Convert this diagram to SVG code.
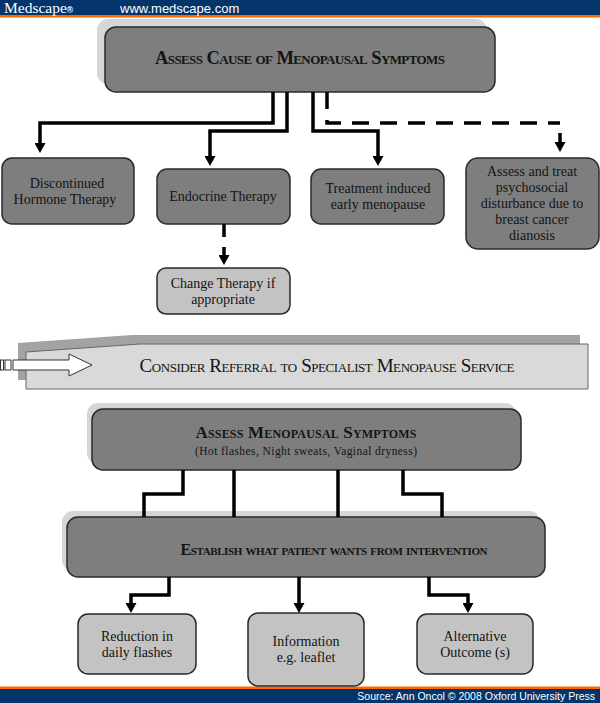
<svg xmlns="http://www.w3.org/2000/svg" width="600" height="703" viewBox="0 0 600 703">
<defs>
<marker id="ah" markerUnits="userSpaceOnUse" markerWidth="10" markerHeight="11" viewBox="0 0 10 11" refX="0" refY="5.5" orient="auto">
<path d="M0,0 L10,5.5 L0,11 z" fill="#000"/>
</marker>
</defs>
<style>
.dark{fill:#7e7e7e;stroke:#2a2a2a;stroke-width:1.5}
.light{fill:#c3c3c3;stroke:#2a2a2a;stroke-width:1.5}
.shadow{fill:#d6d6d6}
.t{font-family:"Liberation Serif","Times New Roman",serif;font-size:14px;fill:#141414;text-anchor:middle}
.title{font-family:"Liberation Serif","Times New Roman",serif;font-weight:bold;font-variant:small-caps;fill:#141414;text-anchor:middle}
.c{fill:none;stroke:#000;stroke-width:3.5;stroke-linejoin:miter}
.dash{stroke-dasharray:17 11}
</style>
<rect width="600" height="703" fill="#fff"/>
<g id="header">
<rect x="0" y="0" width="600" height="15" fill="#03356b"/>
<rect x="0" y="15" width="600" height="2.5" fill="#ff6600"/>
<text x="4" y="13" font-family="Liberation Serif,serif" font-size="15.5" fill="#fff">Medscape<tspan font-family="Liberation Sans,sans-serif" font-size="8.5" font-weight="bold">®</tspan></text>
<text x="120" y="12.5" font-family="Liberation Sans,Arial,sans-serif" font-size="13" fill="#fff">www.medscape.com</text>
</g>
<g id="footer">
<rect x="0" y="686.5" width="600" height="2.5" fill="#ff6600"/>
<rect x="0" y="689" width="600" height="14" fill="#03356b"/>
<text x="595" y="699.5" text-anchor="end" font-family="Liberation Sans,Arial,sans-serif" font-size="10.5" fill="#fff">Source: Ann Oncol © 2008 Oxford University Press</text>
</g>
<g id="assess-cause">
<rect class="shadow" x="97" y="19" width="390" height="65" rx="11"/>
<rect class="dark" x="105" y="27" width="390" height="65" rx="11"/>
<text class="title" x="300" y="64" font-size="18.5" textLength="290" lengthAdjust="spacing">Assess Cause of Menopausal Symptoms</text>
</g>
<g id="discontinued">
<rect class="dark" x="2" y="158" width="132" height="66" rx="10"/>
<text class="t" x="67" y="188">Discontinued</text>
<text class="t" x="65" y="204">Hormone Therapy</text>
</g>
<g id="endocrine">
<rect class="dark" x="157" y="169" width="133" height="55" rx="10"/>
<text class="t" x="223" y="201">Endocrine Therapy</text>
</g>
<g id="change-therapy">
<rect class="light" x="157" y="268" width="133" height="46" rx="9"/>
<text class="t" x="223" y="288">Change Therapy if</text>
<text class="t" x="223" y="304">appropriate</text>
</g>
<g id="treatment-induced">
<rect class="dark" x="311" y="169" width="133" height="55" rx="10"/>
<text class="t" x="378" y="193">Treatment induced</text>
<text class="t" x="378" y="209">early menopause</text>
</g>
<g id="psychosocial">
<rect class="dark" x="466" y="158" width="133" height="91" rx="12"/>
<text class="t" x="532" y="176">Assess and treat</text>
<text class="t" x="532" y="192">psychosocial</text>
<text class="t" x="532" y="208">disturbance due to</text>
<text class="t" x="532" y="224">breast cancer</text>
<text class="t" x="532" y="240">dianosis</text>
</g>
<g id="referral">
<polygon points="18,343 132,335 580,335 580,380 18,380" fill="#a3a3a3"/>
<polygon points="26,352 140,344 588,344 588,389 26,389" fill="#d9d9d9" stroke="#666" stroke-width="1"/>
<rect x="0.5" y="360" width="3" height="10" fill="#fff" stroke="#333" stroke-width="1"/>
<rect x="5" y="360" width="6" height="10" fill="#fff" stroke="#333" stroke-width="1"/>
<polygon points="13,360 69,360 69,354 92,365 69,376 69,370 13,370" fill="#fff" stroke="#333" stroke-width="1"/>
<text x="327" y="372" text-anchor="middle" font-family="Liberation Serif,'Times New Roman',serif" font-size="19" font-variant="small-caps" fill="#141414" textLength="375" lengthAdjust="spacing">Consider Referral to Specialist Menopause Service</text>
</g>
<g id="assess-symptoms">
<rect class="shadow" x="87" y="403" width="429" height="61" rx="11"/>
<rect class="dark" x="92" y="409" width="429" height="61" rx="11"/>
<text class="title" x="306" y="438" font-size="17" textLength="221" lengthAdjust="spacing">Assess Menopausal Symptoms</text>
<text x="306" y="455" text-anchor="middle" font-family="Liberation Serif,'Times New Roman',serif" font-size="11.5" fill="#141414" textLength="222" lengthAdjust="spacing">(Hot flashes, Night sweats, Vaginal dryness)</text>
</g>
<g id="establish">
<rect class="shadow" x="62" y="511" width="478" height="60" rx="11"/>
<rect class="dark" x="67" y="517" width="478" height="60" rx="11"/>
<text class="title" x="334" y="555" font-size="16" textLength="307" lengthAdjust="spacing">Establish what patient wants from intervention</text>
</g>
<g id="reduction">
<rect class="light" x="78" y="614" width="118" height="60" rx="10"/>
<text class="t" x="137" y="641">Reduction in</text>
<text class="t" x="137" y="657">daily flashes</text>
</g>
<g id="information">
<rect class="light" x="248" y="613" width="116" height="73" rx="10"/>
<text class="t" x="306" y="646">Information</text>
<text class="t" x="306" y="662">e.g. leaflet</text>
</g>
<g id="alternative">
<rect class="light" x="417" y="614" width="116" height="60" rx="10"/>
<text class="t" x="475" y="641">Alternative</text>
<text class="t" x="475" y="657">Outcome (s)</text>
</g>
<g id="connectors">
<path class="c" d="M273,92 V123 H40 V143" marker-end="url(#ah)"/>
<path class="c" d="M287,92 V131 H210 V156" marker-end="url(#ah)"/>
<path class="c" d="M313,92 V131 H378 V156" marker-end="url(#ah)"/>
<path class="c dash" d="M327,92 V123 H560"/>
<path class="c" d="M560,133 V142" marker-end="url(#ah)"/>
<path class="c" d="M224,224 V237"/>
<path class="c" d="M224,247 V255" marker-end="url(#ah)"/>
<path class="c" d="M183,470 V494 H144 V517"/>
<path class="c" d="M234,470 V517"/>
<path class="c" d="M338,470 V517"/>
<path class="c" d="M403,470 V494 H442 V517"/>
<path class="c" d="M169,577 V595 H131 V603" marker-end="url(#ah)"/>
<path class="c" d="M299,577 V603" marker-end="url(#ah)"/>
<path class="c" d="M429,577 V595 H468 V603" marker-end="url(#ah)"/>
</g>
</svg>
